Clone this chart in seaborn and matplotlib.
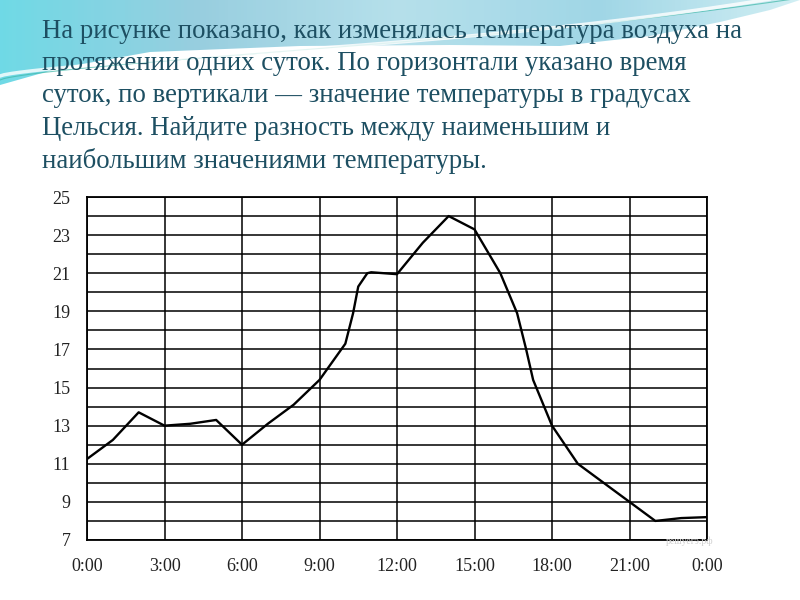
import numpy as np
import pandas as pd
import matplotlib
matplotlib.use("Agg")
import matplotlib.pyplot as plt
import seaborn as sns
from matplotlib.colors import LinearSegmentedColormap
from matplotlib.patches import PathPatch
from matplotlib.path import Path

# ---- data ----
hours = [0, 1, 2, 3, 4, 5, 6, 7, 8, 9, 10, 10.3, 10.5, 10.85, 11, 12, 13, 14, 15,
         16, 16.65, 17, 17.27, 18, 19, 20, 21, 22, 23, 24]
temps = [11.25, 12.25, 13.7, 13.0, 13.1, 13.3, 12.0, 13.1, 14.1, 15.4, 17.3, 18.9,
         20.3, 21.0, 21.05, 20.95, 22.6, 24.0, 23.3, 21.0, 18.9, 17.0, 15.4, 13.0,
         11.0, 10.0, 9.0, 8.0, 8.15, 8.2]
x_ticks = [0, 3, 6, 9, 12, 15, 18, 21, 24]
x_labels = ["0:00", "3:00", "6:00", "9:00", "12:00", "15:00", "18:00", "21:00", "0:00"]
y_ticks = [7, 9, 11, 13, 15, 17, 19, 21, 23, 25]

title_lines = [
    "На рисунке показано, как изменялась температура воздуха на",
    "протяжении одних суток. По горизонтали указано время",
    "суток, по вертикали — значение температуры в градусах",
    "Цельсия. Найдите разность между наименьшим и",
    "наибольшим значениями температуры.",
]

df = pd.DataFrame({"hour": hours, "temp": temps})

sns.set_theme(style="white")
plt.rcParams['font.family'] = ['Liberation Serif', 'DejaVu Serif']

fig = plt.figure(figsize=(8, 6), dpi=100)
fig.patch.set_facecolor("white")

# ---- decorative background band at top ----
bg = fig.add_axes([0, 0, 1, 1], zorder=0)
bg.set_xlim(0, 800)
bg.set_ylim(600, 0)
bg.axis("off")
edge_x = [0, 60, 150, 300, 450, 560, 650, 720, 770, 800]
edge_y = [85, 68, 52, 46, 45, 46, 36, 22, 10, 0]
verts = [(0, 0)] + list(zip(edge_x, edge_y)) + [(800, 0), (0, 0)]
codes = [Path.MOVETO] + [Path.LINETO] * (len(verts) - 2) + [Path.CLOSEPOLY]
patch = PathPatch(Path(verts, codes), facecolor="none", edgecolor="none")
bg.add_patch(patch)
cmap = LinearSegmentedColormap.from_list("band", ["#55d3e2", "#86c6da", "#a9dbe8", "#8fcfe2", "#c9ecf2"])
grad = np.tile(np.linspace(0, 1, 256), (20, 1))
im = bg.imshow(grad, extent=[0, 800, 90, 0], cmap=cmap, aspect="auto", alpha=0.85)
im.set_clip_path(patch)
sx = np.linspace(0, 800, 200)
bg.plot(sx, 80 - 42 * np.sin(np.pi * sx / 1600) ** 0.7 - 40 * (sx / 800) ** 3, color="#3fb8a8", lw=0.8, alpha=0.7)
bg.plot(sx, 76 - 36 * np.sin(np.pi * sx / 1600) ** 0.7 - 46 * (sx / 800) ** 3, color="white", lw=2.5, alpha=0.8)

# ---- title text ----
for i, line in enumerate(title_lines):
    fig.text(42 / 800, 1 - (31 + i * 32.5) / 600, line, fontsize=19.3, color="#1d4f62",
             va="center", ha="left", zorder=3)

# ---- chart ----
ax = fig.add_axes([87 / 800, 1 - 540 / 600, 620 / 800, 343 / 600], zorder=2)
ax.set_facecolor("white")
sns.lineplot(data=df, x="hour", y="temp", ax=ax, color="black", lw=1.7, zorder=3)
ax.set_xlim(0, 24)
ax.set_ylim(7, 25)
ax.set_xticks(x_ticks)
ax.set_xticklabels(x_labels)
ax.set_yticks(y_ticks)
ax.set_yticks(np.arange(7, 26, 1), minor=True)
ax.grid(which="both", axis="y", color="black", lw=1.1)
ax.grid(which="major", axis="x", color="black", lw=1.1)
ax.set_axisbelow(True)
for s in ax.spines.values():
    s.set_color("black")
    s.set_linewidth(1.3)
ax.set_xlabel("")
ax.set_ylabel("")
ax.tick_params(axis="both", which="both", length=0, labelsize=13, colors="#222222")
ax.tick_params(axis="x", pad=13)
ax.tick_params(axis="y", pad=12)

fig.text(690 / 800, 1 - 541 / 600, "решуегэ.рф", fontsize=7, color="#d0d0d0", ha="center", va="center", zorder=3)

fig.savefig("out.png", dpi=100)
